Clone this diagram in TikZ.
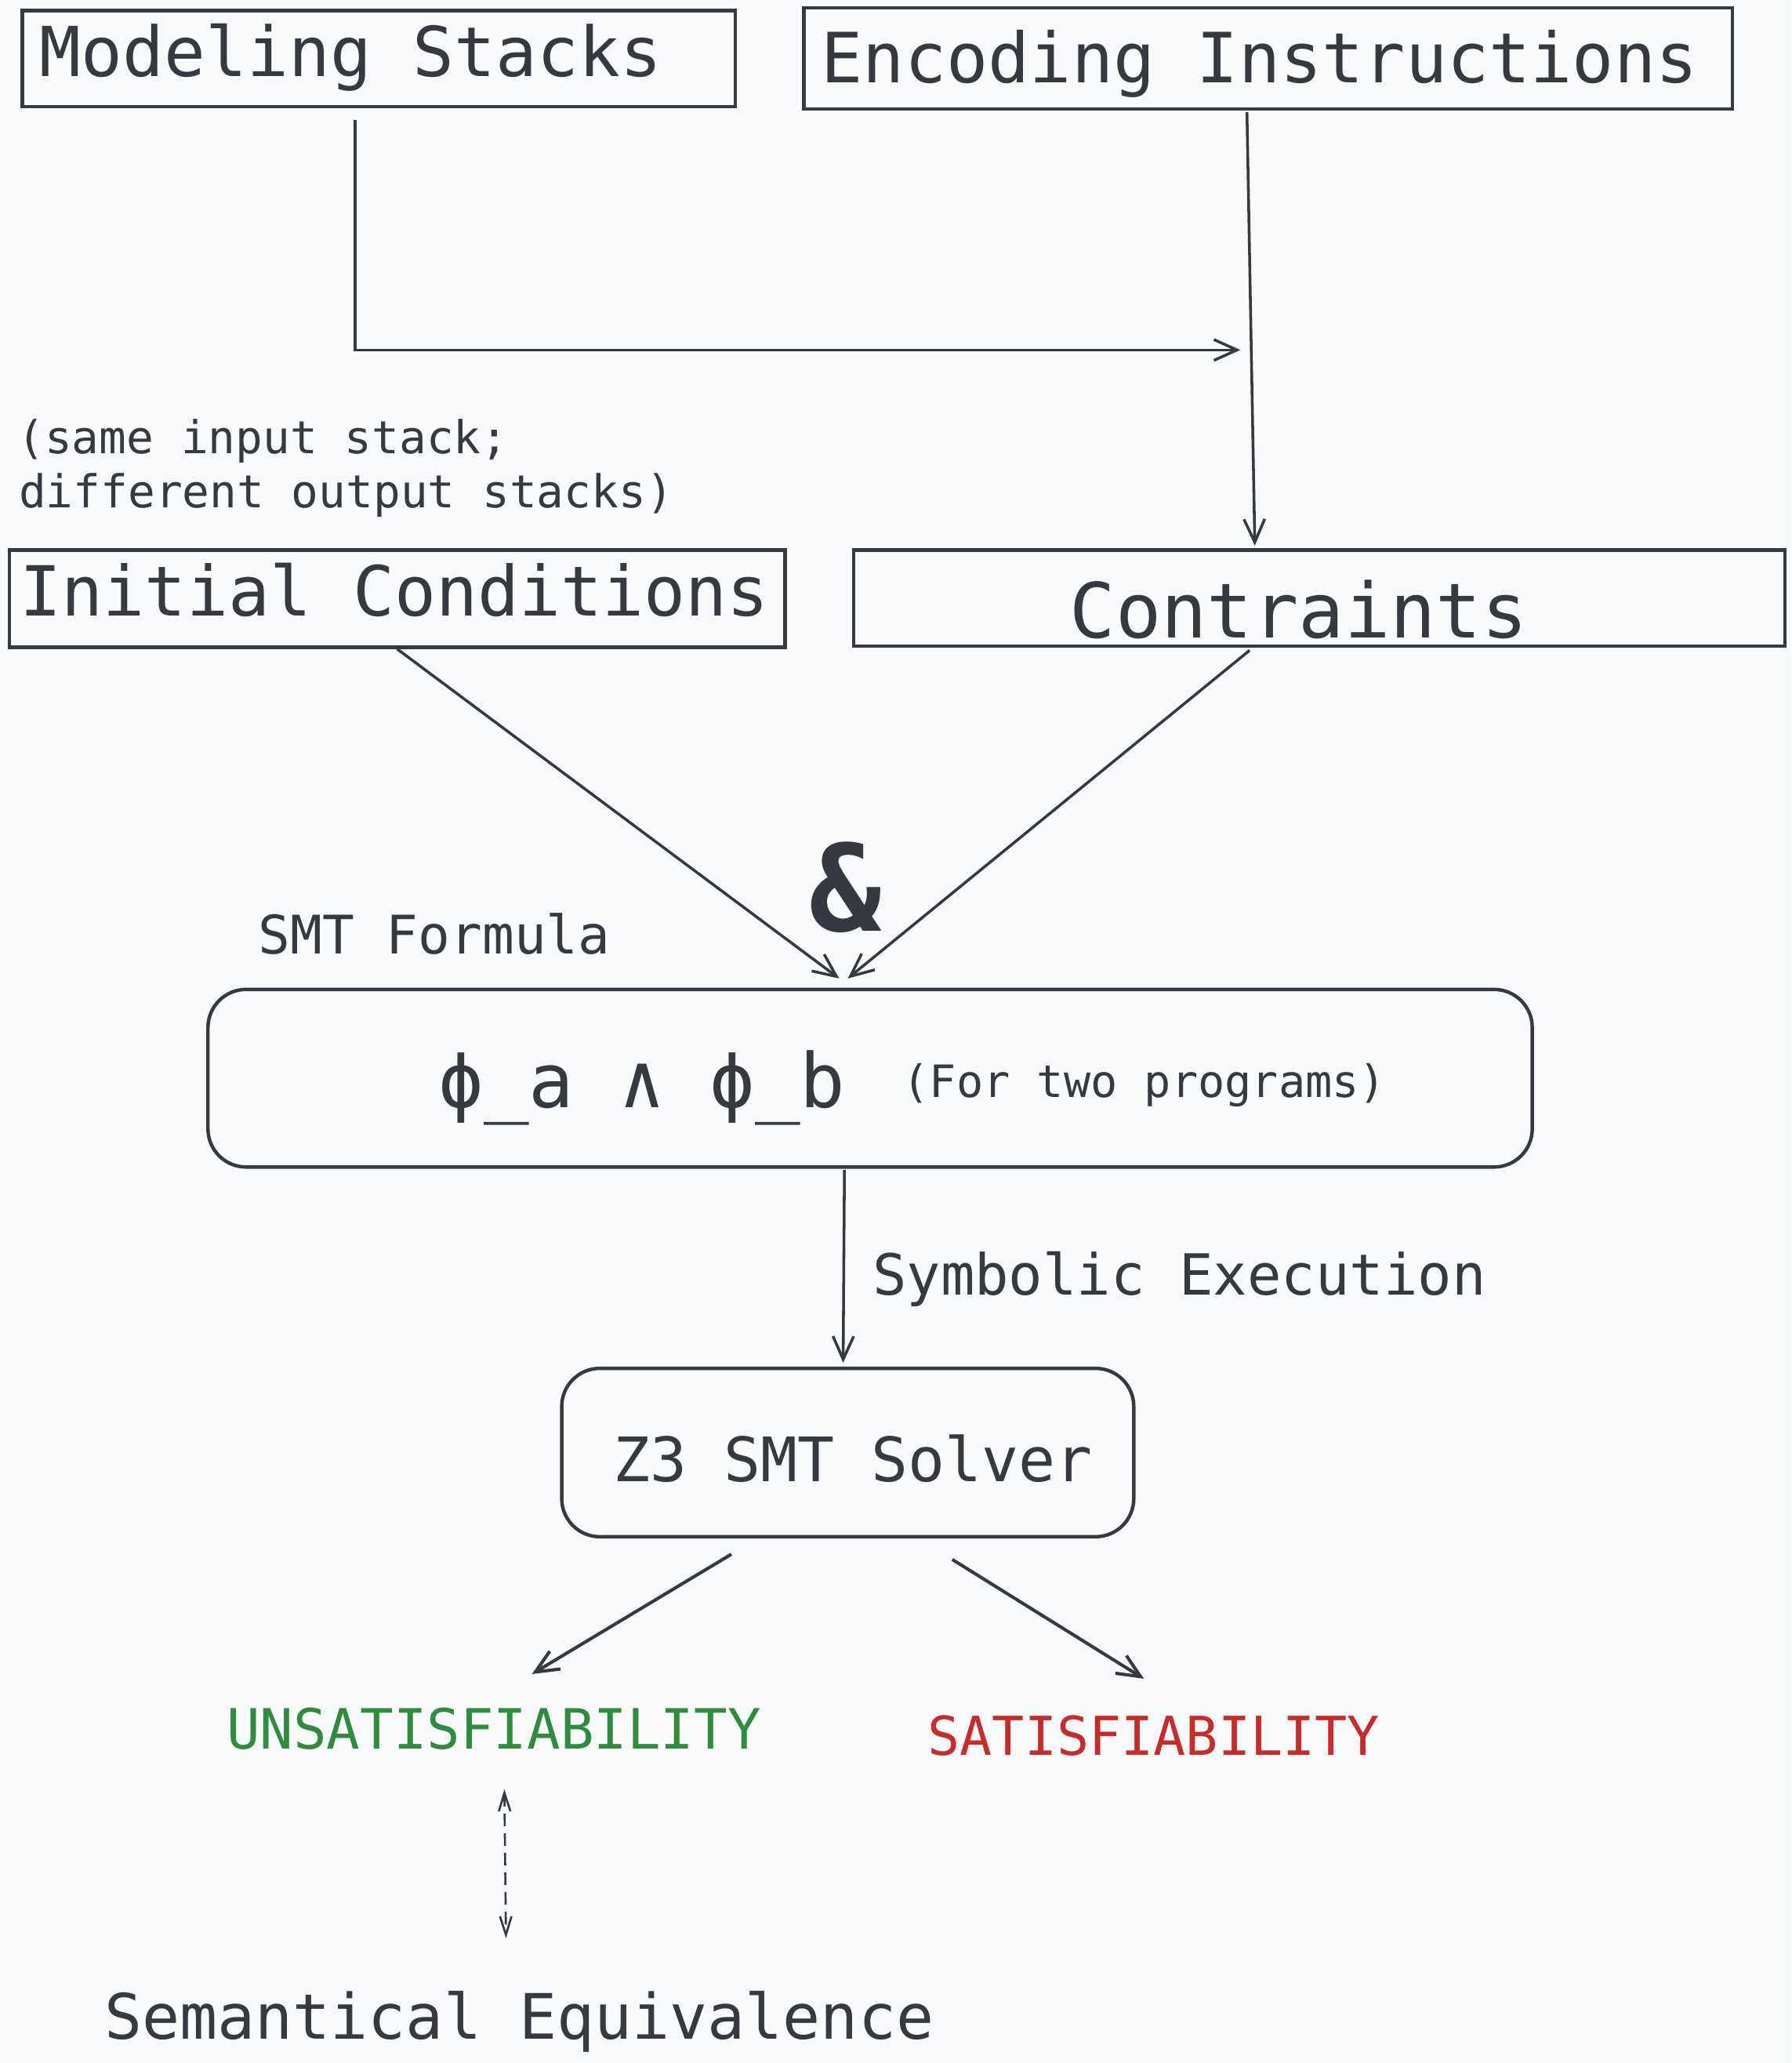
\documentclass[tikz,border=0pt]{standalone}
\usepackage{fontspec}
\usetikzlibrary{arrows.meta,calc}
\newfontfamily\mono{DejaVu Sans Mono}
\definecolor{Ink}{RGB}{52,58,64}
\definecolor{Paper}{RGB}{248,249,250}
\definecolor{Unsat}{RGB}{47,140,62}
\definecolor{Sat}{RGB}{201,42,42}

\begin{document}
\begin{tikzpicture}[x=0.02cm, y=-0.02cm,
    box/.style={draw=Ink, line width=1.5pt, inner sep=0pt},
    rbox/.style={box, rounded corners=0.58cm},
    txt/.style={anchor=base west, inner sep=0pt, text=Ink},
    arr/.style={draw=Ink, line width=1.2pt, -{Straight Barb[length=10pt,width=9pt]}},
    dasharr/.style={draw=Ink, line width=0.9pt, dash pattern=on 5.5pt off 3pt,
        {Straight Barb[length=8pt,width=5pt]}-{Straight Barb[length=8pt,width=5pt]}}
    ]
    % Paper
    \fill[Paper] (0,0) rectangle (1362,1568);
    \useasboundingbox (0,0) rectangle (1362,1568);

    % Boxes
    \node[box, minimum width=10.84cm, minimum height=1.46cm] (model) at (288,44.5) {};
    \node[box, minimum width=14.12cm, minimum height=1.54cm] (encode) at (964,44.5) {};
    \node[box, minimum width=11.8cm, minimum height=1.48cm] (init) at (302,455) {};
    \node[box, minimum width=14.16cm, minimum height=1.46cm] (constr) at (1003,454.5) {};
    \node[rbox, minimum width=20.14cm, minimum height=2.7cm] (formula) at (661.5,819.5) {};
    \node[rbox, minimum width=8.7cm, minimum height=2.56cm] (solver) at (644.5,1104) {};

    % Texts
    \node[txt, font=\mono\fontsize{29.8}{36}\selectfont] (tmodel) at (30,58) {Modeling Stacks};
    \node[txt, font=\mono\fontsize{30}{36}\selectfont] (tencode) at (624,63) {Encoding Instructions};
    \node[txt, font=\mono\fontsize{19.6}{23}\selectfont] (note1) at (13,345) {(same input stack;};
    \node[txt, font=\mono\fontsize{19.6}{23}\selectfont] (note2) at (14,386) {different output stacks)};
    \node[txt, font=\mono\fontsize{29.9}{36}\selectfont] (tinit) at (15,468) {Initial Conditions};
    \node[txt, font=\mono\fontsize{32.9}{39}\selectfont] (tconstr) at (813,484.6) {Contraints};
    \node[txt, font=\mono\bfseries\fontsize{52}{60}\selectfont] (amp) at (615,708) {\&};
    \node[txt, font=\mono\fontsize{23}{27}\selectfont] (smtf) at (196,725) {SMT Formula};
    \node[txt, font=\mono\fontsize{32.5}{39}\selectfont] (phi) at (333,841.6) {ϕ\_a ∧ ϕ\_b};
    \node[txt, font=\mono\fontsize{19.3}{23}\selectfont] (twoprog) at (686,834) {(For two programs)};
    \node[txt, font=\mono\fontsize{24.5}{29}\selectfont] (symexec) at (663,984) {Symbolic Execution};
    \node[txt, font=\mono\fontsize{26.5}{32}\selectfont] (tsolver) at (466,1126) {Z3 SMT Solver};
    \node[txt, text=Unsat, font=\mono\fontsize{24}{29}\selectfont] (unsat) at (172,1329) {UNSATISFIABILITY};
    \node[txt, text=Sat, font=\mono\fontsize{23.2}{27}\selectfont] (sat) at (705,1334) {SATISFIABILITY};
    \node[txt, font=\mono\fontsize{27.1}{33}\selectfont] (sem) at (79,1550) {Semantical Equivalence};

    % Connectors
    \coordinate (join) at (943,266);
    \draw[arr] ($(model.south)+(-18,9)$) |- (join);
    \draw[arr] ($(encode.south)+(-16,1)$) -- ($(constr.north)+(-49,-2)$);
    \draw[arr] (init.south) -- ($(formula.north)+(-23.5,-7)$);
    \draw[arr] ($(constr.south)+(-53,2)$) -- ($(formula.north)+(-17,-7)$);
    \draw[arr] ($(formula.south)+(-19.5,1)$) -- ($(solver.north)+(-3.5,-3)$);
    \draw[arr, line width=1.4pt] ($(solver.south)+(-88.5,12)$) -- ($(unsat.north)+(29,-25)$);
    \draw[arr, line width=1.4pt] ($(solver.south)+(79.5,16)$) -- ($(sat.north)+(-7.5,-27.5)$);
    \draw[dasharr] ($(unsat.south)+(8,30)$) -- ($(sem.north)+(-10,-40)$);
\end{tikzpicture}
\end{document}
